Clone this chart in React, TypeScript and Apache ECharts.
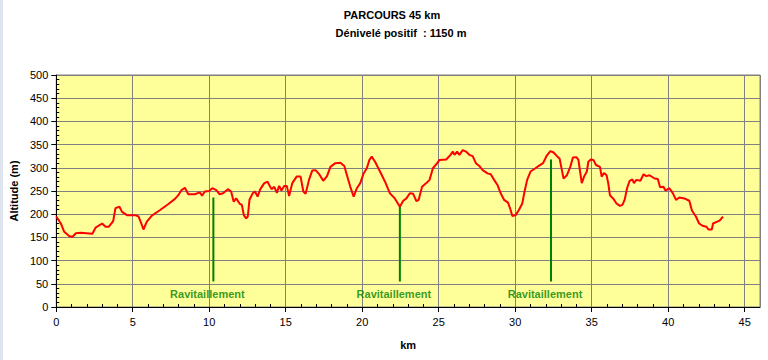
import React, { useEffect, useRef } from "react";
import * as echarts from "echarts";

const kmValues: number[] = [
  0.0, 0.3, 0.52, 0.84, 1.06, 1.28, 1.6, 2.36, 2.57, 3.0, 3.22, 3.44, 3.72, 3.87, 4.13, 4.3, 4.62, 5.17, 5.38, 5.56,
  5.7, 5.92, 6.25, 6.79, 7.33, 7.76, 7.98, 8.19, 8.41, 8.63, 9.06, 9.38, 9.53, 9.71, 9.99, 10.2, 10.46, 10.68, 10.9, 11.22,
  11.43, 11.6, 11.76, 11.98, 12.13, 12.26, 12.41, 12.52, 12.63, 12.84, 12.99, 13.16, 13.34, 13.6, 13.81, 14.07, 14.25, 14.42, 14.57, 14.72,
  14.9, 15.07, 15.22, 15.43, 15.71, 15.97, 16.15, 16.3, 16.52, 16.73, 16.95, 17.17, 17.45, 17.7, 17.92, 18.24, 18.57, 18.83, 19.0, 19.22,
  19.44, 19.65, 19.87, 20.08, 20.3, 20.47, 20.62, 20.84, 21.16, 21.49, 21.81, 22.13, 22.46, 22.68, 22.89, 23.11, 23.33, 23.54, 23.69, 23.91,
  24.19, 24.4, 24.62, 24.9, 25.05, 25.49, 25.77, 25.92, 26.03, 26.2, 26.35, 26.57, 26.78, 27.0, 27.22, 27.43, 27.65, 27.87, 28.19, 28.4,
  28.62, 28.84, 29.05, 29.27, 29.53, 29.7, 29.81, 30.03, 30.24, 30.46, 30.61, 30.78, 31.0, 31.32, 31.54, 31.82, 32.04, 32.3, 32.51, 32.73,
  32.9, 33.05, 33.16, 33.38, 33.6, 33.77, 34.0, 34.13, 34.24, 34.35, 34.5, 34.68, 34.78, 34.94, 35.11, 35.28, 35.54, 35.65, 35.8, 35.97,
  36.08, 36.19, 36.4, 36.62, 36.84, 37.01, 37.16, 37.31, 37.48, 37.66, 37.76, 37.92, 38.18, 38.39, 38.57, 38.78, 39.11, 39.32, 39.47, 39.69,
  39.82, 40.08, 40.29, 40.51, 40.73, 41.05, 41.38, 41.55, 41.81, 42.02, 42.24, 42.5, 42.63, 42.85, 42.93, 43.21, 43.36, 43.58,
];

const altitudeValues: number[] = [
  195, 180, 162, 153, 151, 159, 160, 158, 171, 180, 173, 173, 185, 213, 216, 205, 198, 198, 195, 180,
  167, 184, 197, 209, 222, 233, 241, 252, 257, 243, 243, 247, 240, 249, 250, 256, 252, 243, 245, 254,
  249, 227, 234, 223, 220, 198, 191, 195, 231, 245, 249, 238, 254, 267, 270, 254, 259, 246, 261, 251,
  261, 261, 239, 267, 281, 281, 249, 244, 274, 294, 295, 287, 272, 282, 302, 310, 311, 304, 284, 259,
  238, 256, 267, 287, 299, 317, 324, 313, 292, 270, 245, 234, 216, 229, 234, 245, 244, 228, 231, 259,
  267, 274, 299, 310, 317, 318, 328, 335, 328, 335, 328, 338, 335, 328, 325, 310, 304, 295, 288, 286,
  274, 263, 245, 231, 225, 209, 196, 198, 209, 223, 249, 274, 292, 299, 304, 310, 325, 336, 333, 325,
  320, 295, 277, 284, 302, 322, 323, 317, 292, 267, 281, 292, 313, 318, 317, 306, 302, 281, 289, 284,
  267, 241, 234, 223, 218, 220, 232, 256, 272, 275, 267, 274, 272, 286, 282, 284, 277, 276, 258, 259,
  251, 256, 246, 231, 236, 234, 229, 208, 195, 180, 175, 173, 167, 167, 180, 184, 186, 195,
];

const supplyKm: number[] = [10.27, 22.46, 32.34];
const supplyTop: number[] = [236, 216, 318];
const supplyBase = 55;
const supplyLabelAlt = 28;
const supplyLabel = "Ravitaillement";

const titleLine1 = "PARCOURS 45 km";
const titleLine2 = "Dénivelé positif  : 1150 m";
const xName = "km";
const yName = "Altitude (m)";

const FONT = '"Liberation Sans", Arial, sans-serif';

export default function App() {
  const ref = useRef<HTMLDivElement>(null);

  useEffect(() => {
    if (!ref.current) return;
    const chart = echarts.init(ref.current, undefined, { renderer: "svg" });

    const profile = kmValues.map((k, i) => [k, altitudeValues[i]]);

    const supplyLines = supplyKm.map((k, i) => ({
      type: "line",
      xAxisIndex: 0,
      yAxisIndex: 0,
      data: [
        [k, supplyBase],
        [k, supplyTop[i]],
      ],
      showSymbol: false,
      symbol: "none",
      lineStyle: { color: "#008000", width: 2 },
      z: 2,
      silent: true,
    }));

    const labelSeries = {
      type: "scatter",
      xAxisIndex: 0,
      yAxisIndex: 0,
      symbolSize: 0,
      data: supplyKm.map((k) => [k, supplyLabelAlt]),
      label: {
        show: true,
        position: "inside",
        offset: [-6, 0],
        formatter: supplyLabel,
        color: "#008000",
        fontFamily: FONT,
        fontWeight: "bold",
        fontSize: 11,
      },
      silent: true,
      z: 4,
    };

    chart.setOption({
      animation: false,
      backgroundColor: "#FFFFFF",
      graphic: [
        {
          type: "rect",
          left: 0,
          top: 0,
          shape: { width: 3, height: 360 },
          style: { fill: "#DDE4EE" },
          silent: true,
        },
      ],
      title: [
        {
          text: titleLine1,
          left: 392,
          top: 9,
          padding: 0,
          textAlign: "center",
          textStyle: { fontFamily: FONT, fontWeight: "bold", fontSize: 11, color: "#000" },
        },
        {
          text: titleLine2,
          left: 401,
          top: 27,
          padding: 0,
          textAlign: "center",
          textStyle: { fontFamily: FONT, fontWeight: "bold", fontSize: 11, color: "#000" },
        },
      ],
      grid: {
        left: 52,
        right: 8,
        top: 75,
        bottom: 53,
        show: true,
        backgroundColor: "#FFFF99",
        borderColor: "#808080",
        borderWidth: 1,
        containLabel: false,
      },
      xAxis: [
        {
          type: "value",
          min: 0,
          max: 46,
          interval: 5,
          position: "bottom",
          name: xName,
          nameLocation: "middle",
          nameGap: 32,
          nameTextStyle: { fontFamily: FONT, fontWeight: "bold", fontSize: 11, color: "#000" },
          axisLine: { show: true, onZero: false, lineStyle: { color: "#000", width: 1 } },
          axisTick: { show: true, length: 5, lineStyle: { color: "#000" } },
          axisLabel: {
            fontFamily: FONT,
            fontSize: 11,
            color: "#000",
            margin: 9,
            showMaxLabel: false,
          },
          splitLine: { show: true, lineStyle: { color: "#808080", width: 1 } },
        },
        {
          type: "value",
          min: 0,
          max: 46,
          interval: 5,
          position: "bottom",
          axisLine: { show: false, onZero: false },
          axisTick: { show: false, inside: true },
          minorTick: { show: true, splitNumber: 5, length: 3, lineStyle: { color: "#000", width: 1 } },
          axisLabel: { show: false },
          splitLine: { show: false },
        },
      ],
      yAxis: [
        {
          type: "value",
          min: 0,
          max: 500,
          interval: 50,
          position: "left",
          name: yName,
          nameLocation: "middle",
          nameGap: 34,
          nameTextStyle: { fontFamily: FONT, fontWeight: "bold", fontSize: 11, color: "#000" },
          axisLine: { show: true, lineStyle: { color: "#000", width: 1 } },
          axisTick: { show: true, length: 5, lineStyle: { color: "#000" } },
          axisLabel: { fontFamily: FONT, fontSize: 11, color: "#000", margin: 8 },
          splitLine: { show: true, lineStyle: { color: "#808080", width: 1 } },
        },
        {
          type: "value",
          min: 0,
          max: 500,
          interval: 50,
          position: "left",
          axisLine: { show: false },
          axisTick: { show: false, inside: true },
          minorTick: { show: true, splitNumber: 5, length: 3, lineStyle: { color: "#000", width: 1 } },
          axisLabel: { show: false },
          splitLine: { show: false },
        },
      ],
      series: [
        {
          type: "line",
          xAxisIndex: 0,
          yAxisIndex: 0,
          data: profile,
          showSymbol: false,
          symbol: "none",
          lineStyle: { color: "#FF0000", width: 2 },
          z: 3,
          silent: true,
        },
        ...supplyLines,
        labelSeries,
      ],
    });

    return () => {
      chart.dispose();
    };
  }, []);

  return (
    <div
      ref={ref}
      style={{ position: "fixed", left: 0, top: 0, width: 768, height: 360 }}
    />
  );
}
